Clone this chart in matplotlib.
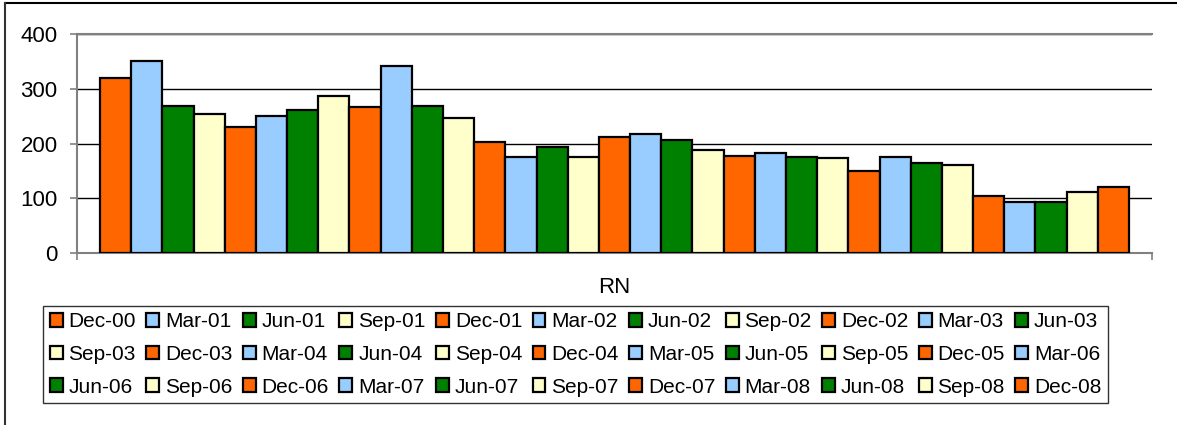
import matplotlib
matplotlib.use('Agg')
import matplotlib.pyplot as plt
from matplotlib.patches import Patch
from matplotlib.lines import Line2D

plt.rcParams['font.family'] = ['Liberation Sans', 'DejaVu Sans']

# ---------- DATA ----------
quarters = ['Dec-00', 'Mar-01', 'Jun-01', 'Sep-01', 'Dec-01', 'Mar-02', 'Jun-02', 'Sep-02',
            'Dec-02', 'Mar-03', 'Jun-03', 'Sep-03', 'Dec-03', 'Mar-04', 'Jun-04', 'Sep-04',
            'Dec-04', 'Mar-05', 'Jun-05', 'Sep-05', 'Dec-05', 'Mar-06', 'Jun-06', 'Sep-06',
            'Dec-06', 'Mar-07', 'Jun-07', 'Sep-07', 'Dec-07', 'Mar-08', 'Jun-08', 'Sep-08',
            'Dec-08']
values = [320, 350, 268, 253, 231, 251, 262, 286, 266, 342, 268, 246, 203, 175, 194, 176,
          211, 217, 207, 189, 177, 182, 176, 173, 149, 175, 165, 161, 104, 93, 94, 111, 120]
category = 'RN'
season_colors = ['#FF6600', '#99CCFF', '#008000', '#FFFFCC']  # Dec, Mar, Jun, Sep

# ---------- PLOT ----------
fig = plt.figure(figsize=(11.77, 4.25), dpi=100)
ax = fig.add_axes([77 / 1177, 1 - 253 / 425, (1152 - 77) / 1177, (253 - 34) / 425])

n = len(values)
colors = [season_colors[i % 4] for i in range(n)]
ax.bar(range(n), values, width=1.0, color=colors, edgecolor='black',
       linewidth=1.6, zorder=3)

pad = 23 / (1029 / n)
lo, hi = -0.5 - pad, n - 0.5 + pad
ax.set_xlim(lo, hi)
ax.set_ylim(0, 400)
ax.set_yticks([0, 100, 200, 300, 400])
ax.yaxis.grid(True, color='black', linewidth=1.0)
ax.set_axisbelow(True)

ax.set_xticks([(lo + hi) / 2])
ax.set_xticklabels([category])
ax.set_xticks([lo, hi], minor=True)
ax.tick_params(axis='x', which='major', length=0, labelsize=16, pad=17)
ax.tick_params(axis='x', which='minor', length=5, color='#808080', width=1.2)
ax.tick_params(axis='y', length=5, color='#808080', width=1.2, labelsize=16, pad=9)

for s in ['left', 'bottom', 'top']:
    ax.spines[s].set_color('#808080')
    ax.spines[s].set_linewidth(1.5)
ax.spines['right'].set_visible(False)

# legend, Excel style row-major order
handles = [Patch(facecolor=c, edgecolor='black', linewidth=1.6) for c in colors]
ncol = 11
nrow = 3
order = [r * ncol + c for c in range(ncol) for r in range(nrow)]
leg = fig.legend([handles[i] for i in order], [quarters[i] for i in order],
                 ncol=ncol, loc='center', bbox_to_anchor=(575.5 / 1177, 1 - 354.5 / 425),
                 fontsize=15, frameon=True, fancybox=False, edgecolor='black',
                 handlelength=0.62, handleheight=0.62, handletextpad=0.28,
                 columnspacing=0.5, labelspacing=0.65, borderpad=0.33,
                 borderaxespad=0)
leg.get_frame().set_linewidth(1.0)

# outer chart border (top and left edges visible)
fig.add_artist(Line2D([5 / 1177, 1.0], [1 - 3 / 425, 1 - 3 / 425],
                      transform=fig.transFigure, color='black', linewidth=1.5))
fig.add_artist(Line2D([5 / 1177, 5 / 1177], [0.0, 1 - 3 / 425],
                      transform=fig.transFigure, color='#333333', linewidth=1.5))

plt.savefig('out.png', dpi=100)
